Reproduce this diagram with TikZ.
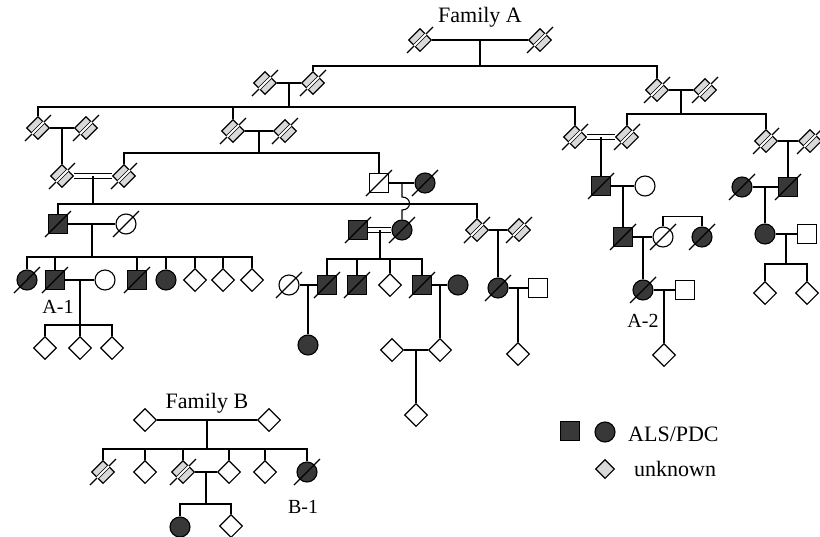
\documentclass[tikz,border=0pt]{standalone}
\usepackage{fontspec}
\setmainfont{Liberation Serif}
\usepackage{tikz}
\usetikzlibrary{shapes.geometric,calc}
\colorlet{clAffected}{black!78}
\colorlet{clUnknown}{gray!30}
\tikzset{
  ind/.style={draw, line width=1.1pt, inner sep=0pt, fill=white},
  male/.style={ind, rectangle, minimum size=19pt},
  female/.style={ind, circle, minimum size=20pt},
  unk/.style={ind, diamond, minimum size=23pt},
  amale/.style={male, fill=clAffected},
  afemale/.style={female, fill=clAffected},
  dunk/.style={unk, fill=clUnknown},
  link/.style={line width=1.1pt},
  cons/.style={link, double, double distance=3.5pt},
  slash/.style={line width=1.1pt},
  lbl/.style={font=\fontsize{20}{24}\selectfont, inner sep=0pt},
  biglbl/.style={font=\fontsize{22}{26}\selectfont, inner sep=0pt},
}
\newcommand{\dead}[1]{\draw[slash] (#1.center) ++(-13,13) -- ++(26,-26);}
\newcommand{\deadunk}[1]{\dead{#1}\draw[line width=0.7pt, double=white, double distance=1.8pt] (#1.center) ++(-6,6) -- ++(12,-12);}

\begin{document}
\begin{tikzpicture}[x=1pt, y=-1pt]
  \useasboundingbox (0,0) rectangle (820,536);
  % family A
  \node[biglbl] (famA) at (480,17) {Family A};
  \node[dunk] (A1) at (420,40) {}; \node[dunk] (A2) at (540,40) {};
  \node[dunk] (B1) at (265,83) {}; \node[dunk] (B2) at (313,83) {};
  \node[dunk] (C1) at (657,90) {}; \node[dunk] (C2) at (705,90) {};
  \node[dunk] (D1) at (38,128) {}; \node[dunk] (D2) at (86,128) {};
  \node[dunk] (D3) at (233,131) {}; \node[dunk] (D4) at (285,131) {};
  \node[dunk] (E1) at (575,137) {}; \node[dunk] (E2) at (627,137) {};
  \node[dunk] (F1) at (766,141) {}; \node[dunk] (F2) at (810,141) {};
  \node[dunk] (M1) at (62,176) {}; \node[dunk] (M2) at (124,176) {};
  \node[male] (N1) at (379,183) {}; \node[afemale] (N2) at (425,183) {};
  \node[amale] (G1) at (601,186) {}; \node[female] (G2) at (645,186) {};
  \node[afemale] (J1) at (742,187) {}; \node[amale] (J2) at (788,187) {};
  \node[amale] (P1) at (58,224) {}; \node[female] (P2) at (126,224) {};
  \node[amale] (O1) at (358,230) {}; \node[afemale] (O2) at (402,230) {};
  \node[dunk] (Q1) at (477,230) {}; \node[dunk] (Q2) at (519,230) {};
  \node[amale] (H1) at (623,237) {}; \node[female] (H2) at (663,237) {};
  \node[afemale] (H3) at (702,237) {};
  \node[afemale] (K1) at (765,234) {}; \node[male] (K2) at (807,234) {};
  \node[afemale] (U1) at (27,280) {}; \node[amale] (U2) at (55,280) {};
  \node[female] (U3) at (105,280) {}; \node[amale] (U4) at (137,280) {};
  \node[afemale] (U5) at (166,280) {}; \node[unk] (U6) at (195,280) {};
  \node[unk] (U7) at (223,280) {}; \node[unk] (U8) at (252,280) {};
  \node[female] (S0) at (289,285) {}; \node[amale] (S1) at (327,285) {};
  \node[amale] (S2) at (357,285) {}; \node[unk] (S3) at (390,285) {};
  \node[amale] (S4) at (422,285) {}; \node[afemale] (S5) at (458,285) {};
  \node[afemale] (R1) at (498,288) {}; \node[male] (R2) at (538,288) {};
  \node[afemale] (I1) at (643,290) {}; \node[male] (I2) at (685,290) {};
  \node[unk] (L1) at (765,293) {}; \node[unk] (L2) at (807,293) {};
  \node[afemale] (S6) at (308,345) {};
  \node[unk] (V1) at (45,348) {}; \node[unk] (V2) at (80,348) {}; \node[unk] (V3) at (112,348) {};
  \node[unk] (T1) at (392,350) {}; \node[unk] (T2) at (440,350) {};
  \node[unk] (R3) at (518,354) {}; \node[unk] (I3) at (664,355) {};
  \node[unk] (T3) at (416,415) {};
  \node[lbl] (labA1) at (58,307) {A-1};
  \node[lbl] (labA2) at (643,321) {A-2};
  % family B
  \node[biglbl] (famB) at (207,403) {Family B};
  \node[unk] (W1) at (145,420) {}; \node[unk] (W2) at (269,420) {};
  \node[dunk] (X1) at (103,472) {}; \node[unk] (X2) at (145,472) {};
  \node[dunk] (X3) at (183,472) {}; \node[unk] (X4) at (229,472) {};
  \node[unk] (X5) at (265,472) {}; \node[afemale] (X6) at (307,472) {};
  \node[afemale] (Y1) at (180,527) {}; \node[unk] (Y2) at (231,526) {};
  \node[lbl] (labB1) at (303,507) {B-1};
  % key
  \node[amale] (keySq) at (570,431) {}; \node[afemale] (keyCi) at (605,432) {};
  \node[biglbl, anchor=west] (keyAff) at (628,434) {ALS/PDC};
  \node[dunk, minimum size=19pt] (keyUn) at (605,469) {};
  \node[biglbl, anchor=west] (keyUnk) at (634,469) {unknown};

  % marriages
  \draw[link] (A1)--(A2); \draw[link] (B1)--(B2); \draw[link] (C1)--(C2);
  \draw[link] (D1)--(D2); \draw[link] (D3)--(D4); \draw[link] (F1)--(F2);
  \draw[cons] (E1)--(E2); \draw[cons] (M1)--(M2); \draw[cons] (O1)--(O2);
  \draw[link] (N1)--(N2); \draw[link] (G1)--(G2); \draw[link] (J1)--(J2);
  \draw[link] (P1)--(P2); \draw[link] (Q1)--(Q2); \draw[link] (H1)--(H2);
  \draw[link] (K1)--(K2); \draw[link] (U2)--(U3); \draw[link] (S0)--(S1);
  \draw[link] (S4)--(S5); \draw[link] (R1)--(R2); \draw[link] (I1)--(I2);
  \draw[link] (T1)--(T2); \draw[link] (W1)--(W2); \draw[link] (X3)--(X4);

  % descent
  \draw[link] ($(A1)!.5!(A2)$) -- ++(0,26) coordinate (sA);
  \draw[link] (sA) -| (B2.north); \draw[link] (sA) -| (C1.north);
  \draw[link] ($(B1)!.5!(B2)$) -- ++(0,24) coordinate (sB);
  \draw[link] (sB) -| (D1.north); \draw[link] (sB) -| (D3.north); \draw[link] (sB) -| (E1.north);
  \draw[link] ($(C1)!.5!(C2)$) -- ++(0,24) coordinate (sC);
  \draw[link] (sC) -| (E2.north); \draw[link] (sC) -| (F1.north);
  \draw[link] ($(D1)!.5!(D2)$) -- (M1);
  \draw[link] ($(D3)!.5!(D4)$) -- ++(0,22) coordinate (sD);
  \draw[link] (sD) -| (M2.north); \draw[link] (sD) -| (N1.north);
  \draw[link] ($(E1)!.5!(E2)$) -- (G1);
  \draw[link] ($(F1)!.5!(F2)$) -- (J2);
  \draw[link] ($(M1)!.5!(M2)$) -- ++(0,28) coordinate (sM);
  \draw[link] (sM) -| (P1.north); \draw[link] (sM) -| (Q1.north);
  \coordinate (mN) at ($(N1)!.5!(N2)$);
  \draw[link] (mN) -- ($(mN)+(0,14)$) .. controls ($(mN)+(10,14)$) and ($(mN)+(10,27)$) .. ($(mN)+(0,27)$) -- (O2);
  \draw[link] ($(G1)!.5!(G2)$) -- (H1);
  \draw[link] (H2.north) -- ++(0,-10) -| (H3.north);
  \draw[link] ($(H1)!.5!(H2)$) -- (I1);
  \draw[link] ($(I1)!.5!(I2)$) -- (I3);
  \draw[link] ($(J1)!.5!(J2)$) -- (K1);
  \draw[link] ($(K1)!.5!(K2)$) -- ++(0,30) coordinate (sK);
  \draw[link] (sK) -| (L1.north); \draw[link] (sK) -| (L2.north);
  \draw[link] ($(P1)!.5!(P2)$) -- ++(0,33) coordinate (sP);
  \foreach \c in {U1,U2,U4,U5,U6,U7,U8} {\draw[link] (sP) -| (\c.north);}
  \draw[link] ($(U2)!.5!(U3)$) -- ++(0,45) coordinate (sU);
  \foreach \c in {V1,V2,V3} {\draw[link] (sU) -| (\c.north);}
  \draw[link] ($(O1)!.5!(O2)$) -- ++(0,29) coordinate (sO);
  \foreach \c in {S1,S2,S3,S4} {\draw[link] (sO) -| (\c.north);}
  \draw[link] ($(S0)!.5!(S1)$) -- (S6);
  \draw[link] ($(S4)!.5!(S5)$) -- (T2);
  \draw[link] ($(T1)!.5!(T2)$) -- (T3);
  \draw[link] ($(Q1)!.5!(Q2)$) -- (R1);
  \draw[link] ($(R1)!.5!(R2)$) -- (R3);
  \draw[link] ($(W1)!.5!(W2)$) -- ++(0,29) coordinate (sW);
  \foreach \c in {X1,X2,X3,X4,X5,X6} {\draw[link] (sW) -| (\c.north);}
  \draw[link] ($(X3)!.5!(X4)$) -- ++(0,32) coordinate (sX);
  \draw[link] (sX) -| (Y1.north); \draw[link] (sX) -| (Y2.north);

  % deceased marks
  \foreach \p in {A1,A2,B1,B2,C1,C2,D1,D2,D3,D4,E1,E2,F1,F2,M1,M2,Q1,Q2,X1,X3} {\deadunk{\p}}
  \foreach \p in {N1,N2,G1,H1,H2,H3,I1,J1,J2,O1,O2,P1,P2,U1,U2,U4,S0,S1,S2,S4,R1,X6} {\dead{\p}}
\end{tikzpicture}
\end{document}
